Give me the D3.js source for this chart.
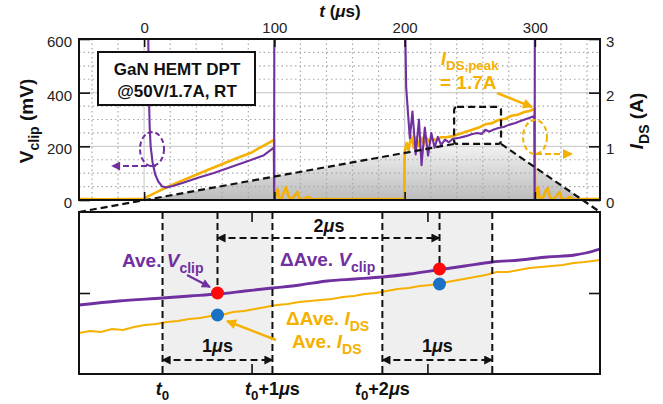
<!DOCTYPE html>
<html>
<head>
<meta charset="utf-8">
<script src="https://cdn.jsdelivr.net/npm/d3@7"></script>
<style>
  body { margin: 0; background: #fff; }
  svg { display: block; font-family: Arial, 'Liberation Sans', sans-serif; }
</style>
</head>
<body>
<script>
// ---- top panel: full double-pulse waveforms ----
const iTime = [-50,-30,-10,0,0.5,5,10,15,25,40,53,70,82,99.8,100.1,101.5,102.5,103.5,105,107.5,109,110.5,112.5,116,117.5,119,121.5,125,126.5,128,135,150,170,199.8,200,201.5,203,205,207,209,211,213,215,217,219,221,224,228,232,237,242,247,252,257,262,267,272,277,282,287,292,296,299.8,300.1,301.5,302.5,303.5,305.5,308.5,310,311.5,314,318,319,320.5,323,326,327,328.5,335,350];
const iDS = [0.02,0.015,0.02,0.02,0.04,0.09,0.15,0.21,0.32,0.47,0.6,0.77,0.88,1.12,0,0.17,0.2,0.06,0,0.16,0.24,0.1,0,0.09,0.15,0.04,0,0.05,0.06,0.01,0.02,0.015,0.02,0.02,0.9,1.06,0.93,1.2,0.97,1.17,1.0,1.16,1.04,1.15,1.08,1.14,1.12,1.17,1.17,1.19,1.23,1.27,1.31,1.35,1.41,1.43,1.49,1.51,1.57,1.59,1.64,1.66,1.7,0,0.2,0.24,0.05,0,0.18,0.22,0.05,0,0.12,0.15,0.03,0,0.05,0.06,0.01,0.02,0.02];

const vTime = [-50,2.8,3.2,3.6,4.2,5,6.5,8.5,11,14,17,22,30,42,53,65,82,92,99.6,99.8,100,150,199.9,200.6,201.2,202.5,204,206,208.5,211,213,215.5,218,220.5,223,225.5,228,231,234,237,242,247,252,256,259,262,265,268,272,276,280,285,290,295,299.6,299.8,300,350];
const vClip = [800,800,600,420,280,200,140,95,68,50,47,52,64,84,100,120,149,167,195,0,800,800,800,600,420,330,230,330,170,300,130,270,165,250,195,235,205,225,215,228,232,238,246,250,246,262,255,262,268,272,280,287,296,305,313,0,800,800];

const tTicks = [0,100,200,300];
const vTicks = [0,200,400,600];
const iTicks = [0,1,2,3];
// zoomed window (t in us, V in mV)
const zoomT = [238,274];
const zoomV = [209,347];

// ---- bottom panel: zoomed view, time relative to t0 ----
const bTime = [-0.76,-0.4,0,0.25,0.5,0.75,1,1.25,1.5,1.75,2,2.25,2.5,2.75,3,3.25,3.5,3.75,3.85,3.98];
const bVclip = [269,273,276,278,280,283,286,289,293,295,297,300,304,308,312,314,317,319,321,325];
const bOTime = [-0.76,-0.66,-0.56,-0.46,-0.36,-0.26,-0.16,-0.06,0.04,0.14,0.24,0.34,0.44,0.54,0.64,0.74,0.84,0.94,1.04,1.14,1.24,1.34,1.44,1.54,1.64,1.74,1.84,1.94,2.04,2.14,2.24,2.34,2.44,2.54,2.64,2.74,2.84,2.94,3.04,3.14,3.24,3.34,3.44,3.54,3.64,3.74,3.84,3.98];
const bIDS = [1.205,1.215,1.21,1.225,1.22,1.235,1.245,1.25,1.26,1.265,1.275,1.28,1.29,1.295,1.31,1.315,1.325,1.335,1.345,1.35,1.36,1.365,1.37,1.375,1.385,1.39,1.40,1.405,1.415,1.425,1.43,1.44,1.445,1.455,1.465,1.475,1.485,1.495,1.51,1.51,1.52,1.53,1.535,1.54,1.545,1.555,1.56,1.57];
const dotT = [0.5, 2.52];
const dotV = [281, 305];
const dotI = [1.295, 1.45];
const windowT = [[0,1],[2,3]];
const bxTicks = [0.81, 2.41];
const bvTicks = [281];
const biTicks = [1.405];

const PURPLE = '#7030a0', ORANGE = '#f5b000';

const svg = d3.select('body').append('svg').attr('width', 663).attr('height', 404);
const defs = svg.append('defs');

const x = d3.scaleLinear().domain([-50,350]).range([79,600]);
const yV = d3.scaleLinear().domain([0,600]).range([200,39]);
const yI = d3.scaleLinear().domain([0,3]).range([200,39]);

const xb = d3.scaleLinear().domain([-0.76,3.98]).range([79,600]);
const yVb = d3.scaleLinear().domain([200,362]).range([374,212]);
const yIb = d3.scaleLinear().domain([1.0,1.81]).range([374,212]);

defs.append('clipPath').attr('id','clipTop').append('rect')
  .attr('x',79).attr('y',39).attr('width',521).attr('height',161);
defs.append('clipPath').attr('id','clipBot').append('rect')
  .attr('x',79).attr('y',212).attr('width',521).attr('height',162);

const grad = defs.append('linearGradient').attr('id','fade')
  .attr('gradientUnits','userSpaceOnUse').attr('x1',0).attr('y1',yV(zoomV[0])).attr('x2',0).attr('y2',200);
grad.append('stop').attr('offset',0).attr('stop-color','#f3f3f3');
grad.append('stop').attr('offset',1).attr('stop-color','#bcbcbc');

function marker(id, color, w, h) {
  defs.append('marker').attr('id', id)
    .attr('viewBox','0 0 10 10').attr('refX',9).attr('refY',5)
    .attr('markerUnits','userSpaceOnUse').attr('markerWidth',w).attr('markerHeight',h)
    .attr('orient','auto-start-reverse')
    .append('path').attr('d','M0,0L10,5L0,10z').attr('fill',color);
}
marker('arrK','#111',10,9);
marker('arrP',PURPLE,10,9);
marker('arrO',ORANGE,11,10);

// rich text helper: parts = [{s, i, sub}]
function rich(parent, px, py, parts, size, color, anchor) {
  const t = parent.append('text').attr('x',px).attr('y',py)
    .attr('font-size',size).attr('font-weight','bold').attr('fill',color)
    .attr('text-anchor',anchor || 'start');
  let shift = 0;
  parts.forEach(p => {
    const s = t.append('tspan').text(p.s);
    const target = p.sub ? size*0.3 : 0;
    if (target !== shift) { s.attr('dy', target - shift); shift = target; }
    if (p.sub) s.attr('font-size', size*0.74);
    if (p.i) s.attr('font-style','italic');
  });
  return t;
}

// ================= TOP PANEL =================
const topG = svg.append('g');
const topClip = topG.append('g').attr('clip-path','url(#clipTop)');

// shaded zoom wedge
const wedge = [[79,212],[x(zoomT[0]),yV(zoomV[0])],[x(zoomT[1]),yV(zoomV[0])],[600,212]];
topClip.append('path').attr('d', d3.line()(wedge) + 'Z').attr('fill','url(#fade)');

// grid
const minorV = d3.range(50,600,50).filter(v => v % 200 !== 0);
const minorT = d3.range(-40,350,20).filter(t => t % 100 !== 0);
topClip.selectAll('.gv').data(minorV).join('line')
  .attr('x1',79).attr('x2',600).attr('y1',d=>yV(d)).attr('y2',d=>yV(d))
  .attr('stroke','#a8a8a8').attr('stroke-width',1.2).attr('stroke-dasharray','1.5,3');
topClip.selectAll('.gt').data(minorT).join('line')
  .attr('y1',39).attr('y2',200).attr('x1',d=>x(d)).attr('x2',d=>x(d))
  .attr('stroke','#a8a8a8').attr('stroke-width',1.2).attr('stroke-dasharray','1.5,3');
topClip.selectAll('.gvm').data([200,400]).join('line')
  .attr('x1',79).attr('x2',600).attr('y1',d=>yV(d)).attr('y2',d=>yV(d))
  .attr('stroke','#cfcfcf').attr('stroke-width',1.3);
topClip.selectAll('.gtm').data(tTicks).join('line')
  .attr('y1',39).attr('y2',200).attr('x1',d=>x(d)).attr('x2',d=>x(d))
  .attr('stroke','#d4d4d4').attr('stroke-width',1.3);

// waveforms
topClip.append('path').datum(d3.zip(iTime,iDS))
  .attr('d', d3.line().x(d=>x(d[0])).y(d=>yI(d[1])))
  .attr('fill','none').attr('stroke',ORANGE).attr('stroke-width',2.6).attr('stroke-linejoin','round');
topClip.append('path').datum(d3.zip(vTime,vClip))
  .attr('d', d3.line().x(d=>x(d[0])).y(d=>yV(d[1])))
  .attr('fill','none').attr('stroke',PURPLE).attr('stroke-width',2.1).attr('stroke-linejoin','round');

// axes (ticks inward)
const axStyle = g => {
  g.select('.domain').remove();
  g.selectAll('.tick line').attr('stroke','#111').attr('stroke-width',1.6);
  g.selectAll('.tick text').attr('font-size',15).attr('fill','#222').attr('font-family',"Arial, 'Liberation Sans', sans-serif");
};
topG.append('g').attr('transform','translate(0,39)')
  .call(d3.axisTop(x).tickValues(tTicks).tickSize(-8).tickPadding(6)).call(axStyle);
topG.append('g').attr('transform','translate(0,200)')
  .call(d3.axisBottom(x).tickValues(tTicks).tickSize(-8).tickFormat('')).call(axStyle);
topG.append('g').attr('transform','translate(79,0)')
  .call(d3.axisLeft(yV).tickValues(vTicks).tickSize(-11).tickPadding(7)).call(axStyle)
  .selectAll('.tick text').attr('dy','0.5em');
topG.append('g').attr('transform','translate(600,0)')
  .call(d3.axisRight(yI).tickValues(iTicks).tickSize(-11).tickPadding(6).tickFormat(d3.format('d'))).call(axStyle)
  .selectAll('.tick text').attr('dy','0.5em');

topG.append('rect').attr('x',79).attr('y',39).attr('width',521).attr('height',161)
  .attr('fill','none').attr('stroke','#111').attr('stroke-width',2);

// axis titles
rich(svg, 340, 17, [{s:'t',i:true},{s:' ('},{s:'\u03bc',i:true},{s:'s)'}], 17, '#111', 'middle');
rich(svg.append('g').attr('transform','translate(33,121) rotate(-90)'), 0, 0,
  [{s:'V'},{s:'clip',sub:true},{s:' (mV)'}], 19, '#111', 'middle');
rich(svg.append('g').attr('transform','translate(643,121) rotate(-90)'), 0, 0,
  [{s:'I',i:true},{s:'DS',sub:true},{s:' (A)'}], 19, '#111', 'middle');

// info box
topG.append('rect').attr('x',98).attr('y',52).attr('width',157).attr('height',53)
  .attr('fill','#fff').attr('stroke','#111').attr('stroke-width',2);
topG.append('text').attr('x',177).attr('y',75).attr('text-anchor','middle')
  .attr('font-size',17).attr('font-weight','bold').attr('fill','#111').text('GaN HEMT DPT');
topG.append('text').attr('x',177).attr('y',97).attr('text-anchor','middle')
  .attr('font-size',17).attr('font-weight','bold').attr('fill','#111').text('@50V/1.7A, RT');

// purple circle + arrow (left axis)
topG.append('ellipse').attr('cx',152).attr('cy',149).attr('rx',12).attr('ry',17)
  .attr('fill','none').attr('stroke',PURPLE).attr('stroke-width',2).attr('stroke-dasharray','5,3');
topG.append('line').attr('x1',156).attr('y1',166).attr('x2',112).attr('y2',166)
  .attr('stroke',PURPLE).attr('stroke-width',2).attr('stroke-dasharray','6,3').attr('marker-end','url(#arrP)');
// orange circle + arrow (right axis)
topG.append('ellipse').attr('cx',535).attr('cy',137).attr('rx',12).attr('ry',17)
  .attr('fill','none').attr('stroke',ORANGE).attr('stroke-width',2).attr('stroke-dasharray','5,3');
topG.append('line').attr('x1',536).attr('y1',154).attr('x2',572).attr('y2',154)
  .attr('stroke',ORANGE).attr('stroke-width',2).attr('stroke-dasharray','6,3').attr('marker-end','url(#arrO)');

// peak annotation
rich(topG, 441, 65, [{s:'I',i:true},{s:'DS,peak',sub:true}], 18, ORANGE);
topG.append('text').attr('x',440).attr('y',89).attr('font-size',19).attr('font-weight','bold')
  .attr('fill',ORANGE).text('= 1.7A');
topG.append('line').attr('x1',497).attr('y1',93).attr('x2',532).attr('y2',107)
  .attr('stroke',ORANGE).attr('stroke-width',2.5).attr('marker-end','url(#arrO)');

// zoom box and connecting lines
topG.append('rect').attr('x',x(zoomT[0])).attr('y',yV(zoomV[1]))
  .attr('width',x(zoomT[1])-x(zoomT[0])).attr('height',yV(zoomV[0])-yV(zoomV[1]))
  .attr('rx',3).attr('fill','none').attr('stroke','#111').attr('stroke-width',2.2).attr('stroke-dasharray','7,4');
topG.append('path').attr('d', d3.line()(wedge.slice(0,2)))
  .attr('stroke','#111').attr('stroke-width',2.2).attr('stroke-dasharray','7,4').attr('fill','none');
topG.append('path').attr('d', d3.line()(wedge.slice(2,4)))
  .attr('stroke','#111').attr('stroke-width',2.2).attr('stroke-dasharray','7,4').attr('fill','none');

// ================= BOTTOM PANEL =================
const bot = svg.append('g');
const botClip = bot.append('g').attr('clip-path','url(#clipBot)');

botClip.selectAll('.win').data(windowT).join('rect')
  .attr('x',d=>xb(d[0])).attr('width',d=>xb(d[1])-xb(d[0]))
  .attr('y',212).attr('height',162).attr('fill','#efefef');

botClip.append('path').datum(d3.zip(bOTime,bIDS))
  .attr('d', d3.line().x(d=>xb(d[0])).y(d=>yIb(d[1])))
  .attr('fill','none').attr('stroke',ORANGE).attr('stroke-width',2);
botClip.append('path').datum(d3.zip(bTime,bVclip))
  .attr('d', d3.line().curve(d3.curveMonotoneX).x(d=>xb(d[0])).y(d=>yVb(d[1])))
  .attr('fill','none').attr('stroke',PURPLE).attr('stroke-width',2.8);

// window borders
botClip.selectAll('.wl').data([0,1,2,3]).join('line')
  .attr('x1',d=>xb(d)).attr('x2',d=>xb(d)).attr('y1',212).attr('y2',374)
  .attr('stroke','#111').attr('stroke-width',2).attr('stroke-dasharray','7,4');
// sample markers
botClip.selectAll('.ml').data(d3.zip(dotT,dotV)).join('line')
  .attr('x1',d=>xb(d[0])).attr('x2',d=>xb(d[0])).attr('y1',212).attr('y2',d=>yVb(d[1]))
  .attr('stroke','#111').attr('stroke-width',2).attr('stroke-dasharray','7,4');

// axes
bot.append('g').attr('transform','translate(0,212)')
  .call(d3.axisTop(xb).tickValues(bxTicks).tickSize(-10).tickFormat('')).call(axStyle);
bot.append('g').attr('transform','translate(0,374)')
  .call(d3.axisBottom(xb).tickValues(bxTicks).tickSize(-10).tickFormat('')).call(axStyle);
bot.append('g').attr('transform','translate(79,0)')
  .call(d3.axisLeft(yVb).tickValues(bvTicks).tickSize(-11).tickFormat('')).call(axStyle);
bot.append('g').attr('transform','translate(600,0)')
  .call(d3.axisRight(yIb).tickValues(biTicks).tickSize(-11).tickFormat('')).call(axStyle);
bot.append('rect').attr('x',79).attr('y',212).attr('width',521).attr('height',162)
  .attr('fill','none').attr('stroke','#111').attr('stroke-width',2);

// dots
bot.selectAll('.rd').data(d3.zip(dotT,dotV)).join('circle')
  .attr('cx',d=>xb(d[0])).attr('cy',d=>yVb(d[1])).attr('r',6.5).attr('fill','#ff0a0a');
bot.selectAll('.bd').data(d3.zip(dotT,dotI)).join('circle')
  .attr('cx',d=>xb(d[0])).attr('cy',d=>yIb(d[1])).attr('r',6.5).attr('fill','#1b72c4');

// interval arrows
bot.append('line').attr('x1',xb(dotT[0])).attr('x2',xb(dotT[1])).attr('y1',238).attr('y2',238)
  .attr('stroke','#111').attr('stroke-width',2).attr('stroke-dasharray','7,4')
  .attr('marker-start','url(#arrK)').attr('marker-end','url(#arrK)');
bot.selectAll('.wa').data(windowT).join('line')
  .attr('x1',d=>xb(d[0])).attr('x2',d=>xb(d[1])).attr('y1',360).attr('y2',360)
  .attr('stroke','#111').attr('stroke-width',2).attr('stroke-dasharray','7,4')
  .attr('marker-start','url(#arrK)').attr('marker-end','url(#arrK)');

rich(bot, 329, 232, [{s:'2'},{s:'\u03bc',i:true},{s:'s'}], 18, '#111', 'middle');
windowT.forEach(w => rich(bot, xb((w[0]+w[1])/2), 352, [{s:'1'},{s:'\u03bc',i:true},{s:'s'}], 18, '#111', 'middle'));

// labels
rich(bot, 122, 267, [{s:'Ave. '},{s:'V',i:true},{s:'clip',sub:true}], 19, PURPLE);
rich(bot, 280, 266, [{s:'\u0394Ave. '},{s:'V',i:true},{s:'clip',sub:true}], 19, PURPLE);
rich(bot, 286, 325, [{s:'\u0394Ave. '},{s:'I',i:true},{s:'DS',sub:true}], 19, ORANGE);
rich(bot, 292, 348, [{s:'Ave. '},{s:'I',i:true},{s:'DS',sub:true}], 19, ORANGE);
bot.append('line').attr('x1',187).attr('y1',275).attr('x2',210).attr('y2',287)
  .attr('stroke',PURPLE).attr('stroke-width',2.2).attr('marker-end','url(#arrP)');
bot.append('line').attr('x1',276).attr('y1',340).attr('x2',227).attr('y2',321)
  .attr('stroke',ORANGE).attr('stroke-width',2.5).attr('marker-end','url(#arrO)');

// time labels under bottom panel
rich(svg, xb(0), 395, [{s:'t',i:true},{s:'0',sub:true}], 18, '#111', 'middle');
rich(svg, xb(1), 395, [{s:'t',i:true},{s:'0',sub:true},{s:'+1'},{s:'\u03bc',i:true},{s:'s'}], 18, '#111', 'middle');
rich(svg, xb(2), 395, [{s:'t',i:true},{s:'0',sub:true},{s:'+2'},{s:'\u03bc',i:true},{s:'s'}], 18, '#111', 'middle');
</script>
</body>
</html>
